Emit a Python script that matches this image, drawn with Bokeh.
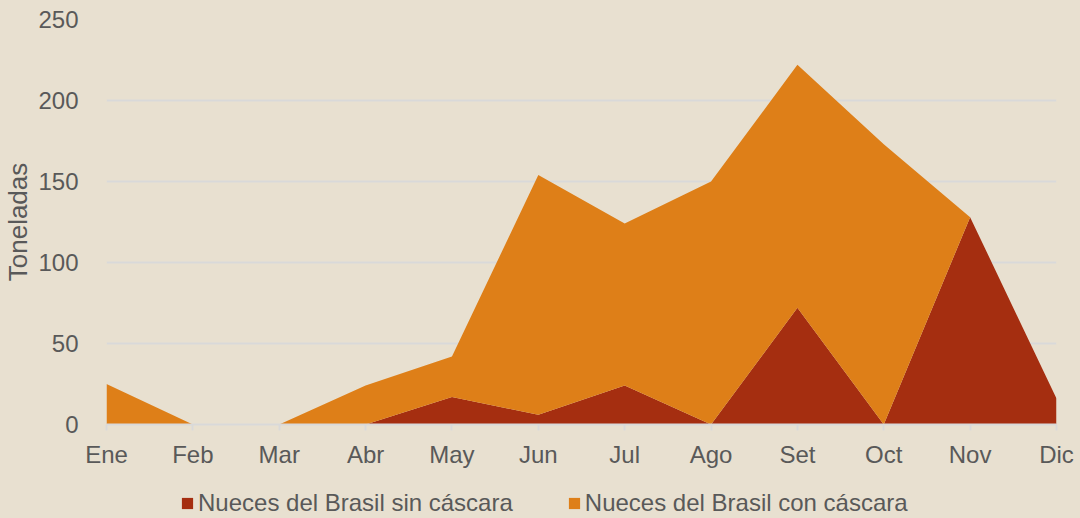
from bokeh.plotting import figure
from bokeh.layouts import column
from bokeh.models import ColumnDataSource, FixedTicker, Range1d, Legend, LegendItem
from bokeh.embed import file_html
from bokeh.resources import INLINE

months = ["Ene", "Feb", "Mar", "Abr", "May", "Jun", "Jul", "Ago", "Set", "Oct", "Nov", "Dic"]
sin_cascara = [0, 0, 0, 0, 17, 6, 24, 0, 72, 0, 128, 16]
con_cascara = [25, 0, 0, 24, 25, 148, 100, 150, 150, 173, 0, 0]
y_ticks = [0, 50, 100, 150, 200, 250]
series_labels = ["Nueces del Brasil sin cáscara", "Nueces del Brasil con cáscara"]
series_colors = ["#A52E10", "#DE7F18"]

src = ColumnDataSource(dict(x=list(range(len(months))), sin=sin_cascara, con=con_cascara))

BG = "#E8E0D0"
TXT = "#595959"
FONT = "Liberation Sans"

p = figure(width=1080, height=470, output_backend="svg", toolbar_location=None,
           x_range=Range1d(0, len(months) - 1), y_range=Range1d(0, 250),
           background_fill_color=BG, border_fill_color=BG,
           min_border_left=106, min_border_right=24, min_border_top=19, min_border_bottom=45,
           styles={"background-color": BG})
p.outline_line_color = None

r = p.varea_stack(["sin", "con"], x="x", source=src, color=series_colors)

p.xaxis.ticker = FixedTicker(ticks=list(range(len(months))))
p.xaxis.major_label_overrides = {i: m for i, m in enumerate(months)}
p.xaxis.axis_line_color = "#D9D9D9"
p.xaxis.axis_line_width = 2
p.xaxis.major_tick_line_color = "#D9D9D9"
p.xaxis.major_tick_line_width = 2
p.xaxis.major_tick_out = 6
p.xaxis.major_tick_in = 0
p.xaxis.minor_tick_line_color = None
p.xaxis.major_label_standoff = 10

p.yaxis.ticker = FixedTicker(ticks=y_ticks)
p.yaxis.axis_line_color = None
p.yaxis.major_tick_line_color = None
p.yaxis.minor_tick_line_color = None
p.yaxis.major_label_standoff = 22
p.yaxis.axis_label = "Toneladas"
p.yaxis.axis_label_standoff = 2

for ax in (p.xaxis[0], p.yaxis[0]):
    ax.major_label_text_font = FONT
    ax.major_label_text_font_size = "24px"
    ax.major_label_text_color = TXT
    ax.axis_label_text_font = FONT
    ax.axis_label_text_font_size = "26px"
    ax.axis_label_text_color = TXT
    ax.axis_label_text_font_style = "normal"

p.xgrid.grid_line_color = None
p.ygrid.grid_line_color = "#D9D9D9"
p.ygrid.grid_line_width = 2

# legend strip below the chart
p2 = figure(width=1080, height=48, output_backend="svg", toolbar_location=None,
            x_range=Range1d(0, 10), y_range=Range1d(0, 10),
            x_axis_type=None, y_axis_type=None,
            background_fill_color=BG, border_fill_color=BG,
            min_border_left=0, min_border_right=0, min_border_top=0, min_border_bottom=0,
            styles={"background-color": BG})
p2.outline_line_color = None
p2.grid.grid_line_color = None
lr = [p2.varea(x=[100, 101], y1=[0, 0], y2=[1, 1], color=c) for c in series_colors]

legend = Legend(items=[LegendItem(label=lab, renderers=[rr]) for lab, rr in zip(series_labels, lr)],
                orientation="horizontal", location=(74, 1),
                background_fill_alpha=0, border_line_color=None,
                label_text_font=FONT, label_text_font_size="24px", label_text_color=TXT,
                glyph_width=14, glyph_height=14, spacing=54, label_standoff=4,
                padding=0, margin=0)
p2.add_layout(legend, "center")

layout = column(p, p2, spacing=0, styles={"background-color": BG})
open("out.html", "w").write(file_html(layout, INLINE))
